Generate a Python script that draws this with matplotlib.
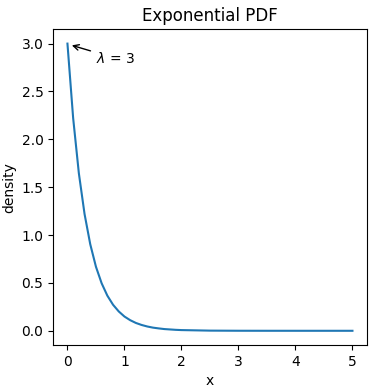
import matplotlib
matplotlib.use("Agg")
import matplotlib.pyplot as plt

lam = 3
x_vals = [0.0, 0.1, 0.2, 0.3, 0.4, 0.5, 0.6, 0.7, 0.8, 0.9, 1.0,
          1.1, 1.2, 1.3, 1.4, 1.5, 1.6, 1.7, 1.8, 1.9, 2.0,
          2.5, 3.0, 3.5, 4.0, 4.5, 5.0]
density = [3.000, 2.222, 1.646, 1.220, 0.904, 0.669, 0.496, 0.367, 0.272, 0.202, 0.149,
           0.111, 0.082, 0.061, 0.045, 0.033, 0.025, 0.018, 0.014, 0.010, 0.0074,
           0.0017, 0.0004, 0.0001, 0.0, 0.0, 0.0]

fig, ax = plt.subplots(figsize=(3.8, 3.9), dpi=100)
ax.plot(x_vals, density, color="#1f77b4", linewidth=1.5)
ax.set_title("Exponential PDF")
ax.set_xlabel("x")
ax.set_ylabel("density")
ax.annotate(r"$\lambda$ = %d" % lam, xy=(0.03, 2.99), xytext=(0.5, 2.8),
            arrowprops=dict(arrowstyle="->", color="black"))
fig.subplots_adjust(left=0.14, right=0.965, top=0.925, bottom=0.115)
fig.savefig("out.png")
